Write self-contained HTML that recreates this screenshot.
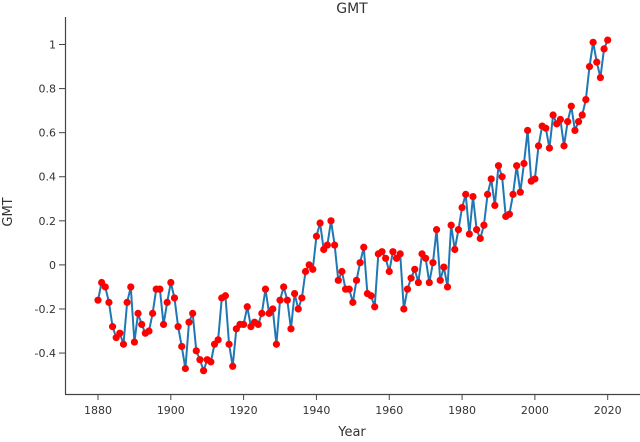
<!DOCTYPE html>
<html><head><meta charset="utf-8"><style>
body{margin:0;background:#fff;}
svg text{font-family:"DejaVu Sans","Liberation Sans",sans-serif;fill:#333;}
</style></head><body>
<svg id="chart" width="640" height="437">
<text x="352" y="13" font-size="14" text-anchor="middle">GMT</text>
<text x="352" y="436" font-size="13" text-anchor="middle">Year</text>
<text transform="translate(12,212) rotate(-90)" font-size="13" text-anchor="middle">GMT</text>
<line x1="65.5" y1="17" x2="65.5" y2="394.5" stroke="#444" stroke-width="1.2"/>
<line x1="65" y1="394.5" x2="640" y2="394.5" stroke="#444" stroke-width="1.2"/>
<g id="ticks"></g>
<path id="line" fill="none" stroke="#1f77b4" stroke-width="2"/>
<g id="pts"></g>
</svg>
<script>
const years=[];for(let y=1880;y<=2020;y++)years.push(y);
const gmt=[-0.16,-0.08,-0.10,-0.17,-0.28,-0.33,-0.31,-0.36,-0.17,-0.10,-0.35,-0.22,-0.27,-0.31,-0.30,-0.22,-0.11,-0.11,-0.27,-0.17,
-0.08,-0.15,-0.28,-0.37,-0.47,-0.26,-0.22,-0.39,-0.43,-0.48,-0.43,-0.44,-0.36,-0.34,-0.15,-0.14,-0.36,-0.46,-0.29,-0.27,
-0.27,-0.19,-0.28,-0.26,-0.27,-0.22,-0.11,-0.22,-0.20,-0.36,-0.16,-0.10,-0.16,-0.29,-0.13,-0.20,-0.15,-0.03,-0.00,-0.02,
0.13,0.19,0.07,0.09,0.20,0.09,-0.07,-0.03,-0.11,-0.11,-0.17,-0.07,0.01,0.08,-0.13,-0.14,-0.19,0.05,0.06,0.03,
-0.03,0.06,0.03,0.05,-0.20,-0.11,-0.06,-0.02,-0.08,0.05,0.03,-0.08,0.01,0.16,-0.07,-0.01,-0.10,0.18,0.07,0.16,
0.26,0.32,0.14,0.31,0.16,0.12,0.18,0.32,0.39,0.27,0.45,0.40,0.22,0.23,0.32,0.45,0.33,0.46,0.61,0.38,
0.39,0.54,0.63,0.62,0.53,0.68,0.64,0.66,0.54,0.65,0.72,0.61,0.65,0.68,0.75,0.90,1.01,0.92,0.85,0.98,1.02];
const xTicks=[1880,1900,1920,1940,1960,1980,2000,2020];
const yTicks=[-0.4,-0.2,0,0.2,0.4,0.6,0.8,1];
const X=v=>98+(v-1880)*(607.7-98)/140;
const Y=v=>264.9-v*220.4;
const NS="http://www.w3.org/2000/svg";
const tg=document.getElementById('ticks');
xTicks.forEach(t=>{
 const l=document.createElementNS(NS,'line');
 l.setAttribute('x1',X(t));l.setAttribute('x2',X(t));l.setAttribute('y1',394);l.setAttribute('y2',400);l.setAttribute('stroke','#444');
 
 
 tg.appendChild(l);
 const tx=document.createElementNS(NS,'text');
 tx.setAttribute('x',X(t));tx.setAttribute('y',414);tx.setAttribute('font-size','11');tx.setAttribute('text-anchor','middle');tx.textContent=t;
 
 
 tg.appendChild(tx);
});
yTicks.forEach(t=>{
 const l=document.createElementNS(NS,'line');
 l.setAttribute('x1',59);l.setAttribute('x2',65);l.setAttribute('y1',Y(t));l.setAttribute('y2',Y(t));l.setAttribute('stroke','#444');
 
 
 tg.appendChild(l);
 const tx=document.createElementNS(NS,'text');
 tx.setAttribute('x',56);tx.setAttribute('y',Y(t)+4);tx.setAttribute('font-size','11');tx.setAttribute('text-anchor','end');
 tx.textContent=(t===0?'0':(t===1?'1':String(t)));
 
 
 tg.appendChild(tx);
});
document.getElementById('line').setAttribute('d',gmt.map((v,i)=>(i?'L':'M')+X(years[i]).toFixed(2)+' '+Y(v).toFixed(2)).join(' '));
const pg=document.getElementById('pts');
gmt.forEach((v,i)=>{
 const c=document.createElementNS(NS,'circle');
 c.setAttribute('cx',X(years[i]));c.setAttribute('cy',Y(v));c.setAttribute('r',3.6);c.setAttribute('fill','#ff0000');
 
 
 pg.appendChild(c);
});
</script>
</body></html>
